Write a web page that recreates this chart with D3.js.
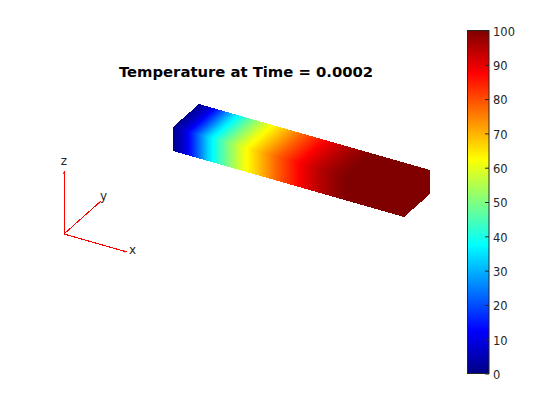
<!DOCTYPE html>
<html><head><meta charset="utf-8">
<style>html,body{margin:0;padding:0;background:#fff}svg{display:block}text{font-family:"DejaVu Sans",sans-serif}</style>
<script src="https://cdn.jsdelivr.net/npm/d3@7/dist/d3.min.js"></script></head><body>
<script>
const titleText = "Temperature at Time = 0.0002";
const positionsAlongBar = [0,.05,.1,.15,.2,.25,.3,.35,.4,.45,.5,.55,.6,.65,.7,.75,.8,.9,1];
const temperatures = [1,8,20,33,43,52,60,66,72,78,83,88,92,95.5,98,100,100,100,100];
const colorbarTicks = [0,10,20,30,40,50,60,70,80,90,100];
const jetStops = [0,12.5,37.5,62.5,87.5,100];
const jetColors = ["#000085","#0000ff","#00ffff","#ffff00","#ff0000","#800000"];
const triadAxes = [{name:"x",v:[1,0,0]},{name:"y",v:[0,1,0]},{name:"z",v:[0,0,1]}];
const barCorners = {x:[0,1],y:[0,1],z:[0,1]};

const W=560,H=420;
const svg=d3.select("body").append("svg").attr("width",W).attr("height",H);
const defs=svg.append("defs");
const jet=d3.scaleLinear().domain(jetStops).range(jetColors).clamp(true);

// Oblique projection of the unit bar onto the page
const px={x:d3.scaleLinear().domain([0,1]).range([0,231]),y:d3.scaleLinear().domain([0,1]).range([0,26]),z:d3.scaleLinear().domain([0,1]).range([0,0])};
const py={x:d3.scaleLinear().domain([0,1]).range([0,66]),y:d3.scaleLinear().domain([0,1]).range([0,-23]),z:d3.scaleLinear().domain([0,1]).range([0,-24])};
const ox=173,oy=151;
const P=(x,y,z)=>[ox+px.x(x)+px.y(y)+px.z(z),oy+py.x(x)+py.y(y)+py.z(z)];
const line=d3.line();
const poly=pts=>line(pts)+"Z";

function grad(id,a,b){
  const g=defs.append("linearGradient").attr("id",id).attr("gradientUnits","userSpaceOnUse")
    .attr("x1",a[0]).attr("y1",a[1]).attr("x2",b[0]).attr("y2",b[1]);
  // Stops are added at each read sample, plus at jet's knots between samples
  positionsAlongBar.forEach((f,i)=>{
    g.append("stop").attr("offset",f).attr("stop-color",jet(temperatures[i]));
    if(i<positionsAlongBar.length-1){
      const t0=temperatures[i],t1=temperatures[i+1];
      jetStops.filter(k=>k>t0&&k<t1).forEach(k=>{
        g.append("stop").attr("offset",f+(k-t0)/(t1-t0)*(positionsAlongBar[i+1]-f)).attr("stop-color",jet(k));
      });
    }
  });
}
const [x0,x1]=barCorners.x,[y0,y1]=barCorners.y,[z0,z1]=barCorners.z;
// Front face: isotherms run along z
grad("front",P(x0,y0,z0),[P(x1,y0,z0)[0],P(x0,y0,z0)[1]]);
// Top face: isotherms run along y
const A=P(x0,y0,z1),B=P(x1,y0,z1),Y=P(x0,y1,z1);
const d=[Y[0]-A[0],Y[1]-A[1]],n=[-d[1],d[0]],nl=Math.hypot(n[0],n[1]);
const nh=[n[0]/nl,n[1]/nl],L=(B[0]-A[0])*nh[0]+(B[1]-A[1])*nh[1];
grad("top",A,[A[0]+nh[0]*L,A[1]+nh[1]*L]);

const bar=svg.append("g").attr("shape-rendering","crispEdges");
bar.append("path").attr("d",poly([P(x0,y0,z0),P(x1,y0,z0),P(x1,y0,z1),P(x0,y0,z1)])).attr("fill","url(#front)");
bar.append("path").attr("d",poly([P(x0,y0,z1),P(x1,y0,z1),P(x1,y1,z1),P(x0,y1,z1)])).attr("fill","url(#top)");
bar.append("path").attr("d",poly([P(x1,y0,z0),P(x1,y1,z0),P(x1,y1,z1),P(x1,y0,z1)])).attr("fill",jet(temperatures[temperatures.length-1]));

// Title
svg.append("text").attr("x",246).attr("y",77).attr("text-anchor","middle").attr("font-weight","bold").attr("font-size",14.8).attr("fill","#000").text(titleText);

// Triad
const tx=d3.scaleLinear().domain([0,1]).range([0,63]);
const triad=svg.append("g");
const O=[64,234];
const dirs={x:[tx(1),18],y:[37,-33],z:[0,-63]};
const labelOff={x:[2,-2],y:[-1,-5],z:[0,-10]};
triadAxes.forEach(a=>{
  const [dx,dy]=dirs[a.name],e=[O[0]+dx,O[1]+dy];
  triad.append("path").attr("d",line([O,e])).attr("stroke","#f00").attr("stroke-width",1).attr("fill","none").attr("shape-rendering","crispEdges");
  const len=Math.hypot(dx,dy),ux=dx/len,uy=dy/len;
  triad.append("path").attr("d",poly([e,[e[0]-ux*3-uy*1,e[1]-uy*3+ux*1],[e[0]-ux*3+uy*1,e[1]-uy*3-ux*1]])).attr("fill","#f00");
  const lo=labelOff[a.name];
  triad.append("text").attr("x",e[0]+lo[0]).attr("y",e[1]+lo[1]+4).attr("font-size",12).attr("fill","#262626").attr("text-anchor",a.name==="z"?"middle":"start").text(a.name);
});

// Colorbar
const cy=d3.scaleLinear().domain([0,100]).range([373.5,30.5]);
const cg=defs.append("linearGradient").attr("id","cbar").attr("x1",0).attr("y1",1).attr("x2",0).attr("y2",0);
jetStops.forEach((s,i)=>cg.append("stop").attr("offset",s/100).attr("stop-color",jetColors[i]));
svg.append("rect").attr("x",467.5).attr("y",cy(100)).attr("width",21.5).attr("height",cy(0)-cy(100)).attr("fill","url(#cbar)");
const axis=d3.axisRight(cy).tickValues(colorbarTicks).tickSize(0).tickPadding(4);
const ag=svg.append("g").attr("transform","translate(489,0)").call(axis);
ag.select(".domain").remove();
ag.selectAll("text").attr("font-size",11.5).attr("fill","#262626").attr("font-family",'"DejaVu Sans",sans-serif').attr("dy","0.42em");
ag.selectAll(".tick").append("line").attr("x1",0).attr("x2",-4).attr("stroke","#262626").attr("stroke-width",1);
svg.append("rect").attr("x",467.5).attr("y",cy(100)).attr("width",21.5).attr("height",cy(0)-cy(100)).attr("fill","none").attr("stroke","#262626").attr("stroke-width",1);
</script></body></html>
